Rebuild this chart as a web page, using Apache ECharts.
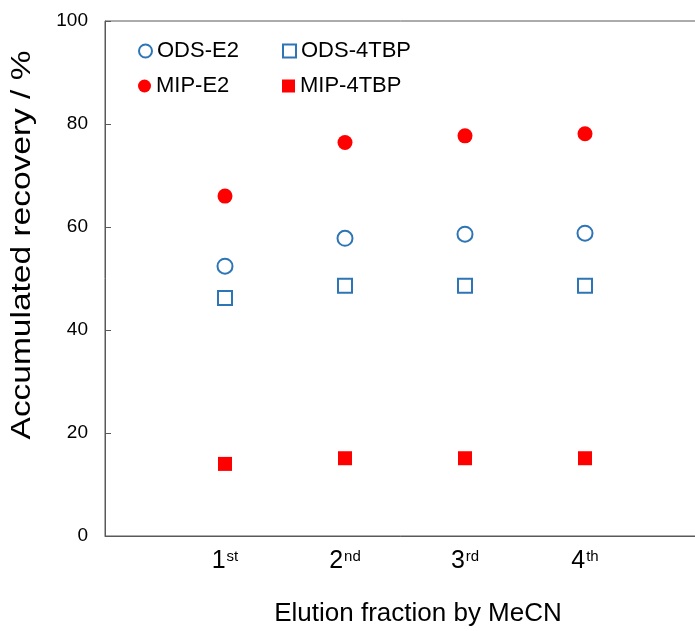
<!DOCTYPE html>
<html>
<head>
<meta charset="utf-8">
<script src="https://cdn.jsdelivr.net/npm/echarts@6/dist/echarts.min.js"></script>
<style>
  html, body { margin: 0; padding: 0; background: #fff; }
  #chart { width: 695px; height: 631px; }
</style>
</head>
<body>
<div id="chart"></div>
<script>
// fractions and values
const fractions = ['1', '2', '3', '4'];
const suffixes = ['st', 'nd', 'rd', 'th'];
const yTicks = [0, 20, 40, 60, 80, 100];

const odsE2 = [52.4, 57.8, 58.6, 58.8];
const ods4tbp = [46.2, 48.6, 48.6, 48.6];
const mipE2 = [66.0, 76.4, 77.7, 78.1];
const mip4tbp = [14.0, 15.1, 15.1, 15.1];

const blue = '#2E75B6';
const red = '#FF0000';
const font = 'Liberation Sans, Arial, sans-serif';

const toPairs = arr => arr.map((v, i) => [i + 1, v]);

const chart = echarts.init(document.getElementById('chart'));

const legendAt = (name, left, top) => ({
  data: [name],
  left: left,
  top: top,
  padding: 0,
  itemWidth: 13,
  itemHeight: 13,
  textStyle: { fontFamily: font, fontSize: 22, color: '#000' },
  selectedMode: false
});

chart.setOption({
  animation: false,
  grid: {
    left: 105, top: 21, width: 600, height: 515,
    outerBoundsMode: 'none', containLabel: false,
    show: true, borderColor: '#595959', borderWidth: 1
  },
  legend: [
    legendAt('ODS-E2', 138, 40),
    legendAt('ODS-4TBP', 282, 40),
    legendAt('MIP-E2', 138, 75),
    legendAt('MIP-4TBP', 282, 75)
  ],
  xAxis: {
    type: 'value',
    min: 0, max: 5, interval: 1,
    axisLine: { lineStyle: { color: '#595959' } },
    axisTick: { show: false },
    splitLine: { show: false },
    axisLabel: {
      margin: 12,
      formatter: v => {
        const i = v - 1;
        if (i < 0 || i >= fractions.length) return '';
        return '{b|' + fractions[i] + '}{s|' + suffixes[i] + '}';
      },
      rich: {
        b: { fontFamily: font, fontSize: 25, color: '#000', lineHeight: 27 },
        s: { fontFamily: font, fontSize: 15, color: '#000', lineHeight: 15, verticalAlign: 'top', padding: [1, 0, 0, 1] }
      }
    }
  },
  yAxis: {
    type: 'value',
    min: yTicks[0], max: yTicks[yTicks.length - 1], interval: 20,
    axisLine: { show: true, lineStyle: { color: '#595959' } },
    axisTick: { show: true, inside: true, length: 6, lineStyle: { color: '#595959' } },
    splitLine: { show: false },
    axisLabel: { fontFamily: font, fontSize: 19, color: '#000', margin: 17 }
  },
  graphic: [
    {
      type: 'text', x: 23, y: 245, rotation: Math.PI / 2, scaleX: 1.24,
      style: {
        text: 'Accumulated recovery / %', fontFamily: font, fontSize: 27,
        fill: '#000', align: 'center', verticalAlign: 'middle'
      }
    },
    {
      type: 'text', x: 418, y: 614,
      style: {
        text: 'Elution fraction by MeCN', fontFamily: font, fontSize: 26,
        fill: '#000', align: 'center', verticalAlign: 'middle'
      }
    }
  ],
  series: [
    {
      name: 'ODS-E2', type: 'scatter', symbol: 'emptyCircle', symbolSize: 15,
      itemStyle: { color: blue, borderColor: blue, borderWidth: 1.6, opacity: 1 },
      data: toPairs(odsE2)
    },
    {
      name: 'ODS-4TBP', type: 'scatter', symbol: 'emptyRect', symbolSize: 14,
      itemStyle: { color: blue, borderColor: blue, borderWidth: 1.3, opacity: 1 },
      data: toPairs(ods4tbp)
    },
    {
      name: 'MIP-E2', type: 'scatter', symbol: 'circle', symbolSize: 15,
      itemStyle: { color: red, opacity: 1 },
      data: toPairs(mipE2)
    },
    {
      name: 'MIP-4TBP', type: 'scatter', symbol: 'rect', symbolSize: 14,
      itemStyle: { color: red, opacity: 1 },
      data: toPairs(mip4tbp)
    }
  ]
});
</script>
</body>
</html>
